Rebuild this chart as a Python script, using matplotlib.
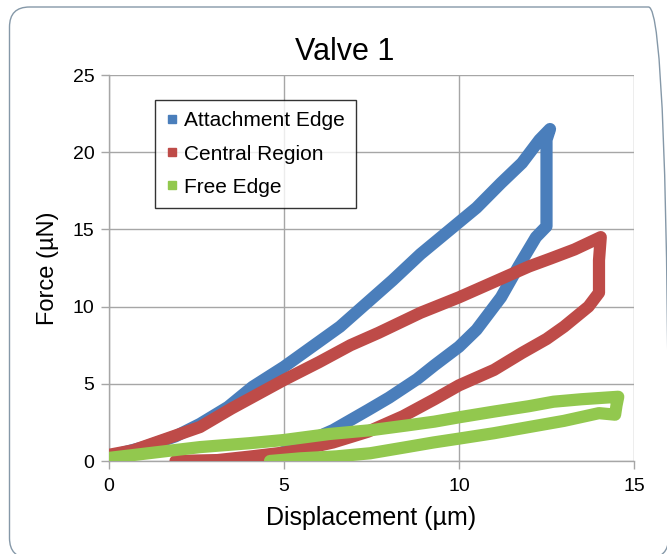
import matplotlib
matplotlib.use("Agg")
import matplotlib.pyplot as plt
from matplotlib.patches import FancyBboxPatch
from matplotlib.lines import Line2D
from matplotlib.transforms import IdentityTransform

plt.rcParams['font.family'] = ['Liberation Sans', 'DejaVu Sans']

# ---- data ----
title = "Valve 1"
x_label = "Displacement (µm)"
y_label = "Force (µN)"
x_ticks = [0, 5, 10, 15]
y_ticks = [0, 5, 10, 15, 20, 25]
series_names = ["Attachment Edge", "Central Region", "Free Edge"]

attach_x = [0.0, 1.0, 1.9, 2.6, 3.4, 4.1, 5.0, 5.8, 6.6, 7.3, 8.1, 8.9, 9.7, 10.5,
            11.2, 11.8, 12.3, 12.6, 12.5, 12.5, 12.5, 12.2, 11.7, 11.2, 10.5, 10.0,
            9.3, 8.8, 8.0, 7.4, 6.4, 5.6, 5.0, 4.6]
attach_y = [0.3, 0.9, 1.6, 2.4, 3.5, 4.8, 6.1, 7.4, 8.7, 10.1, 11.7, 13.4, 14.9, 16.4,
            18.0, 19.3, 20.8, 21.5, 20.8, 18.0, 15.2, 14.5, 12.6, 10.6, 8.5, 7.4,
            6.2, 5.3, 4.1, 3.3, 2.0, 1.2, 0.6, 0.2]

central_x = [0.0, 0.7, 1.65, 2.6, 3.5, 5.0, 6.0, 6.9, 7.7, 8.9, 10.0, 11.0, 12.0,
             12.6, 13.3, 14.05, 14.0, 14.0, 13.7, 13.0, 12.5, 11.8, 11.0, 10.0, 9.3,
             8.4, 7.4, 6.4, 5.5, 5.0, 4.0, 3.1, 1.9]
central_y = [0.4, 0.7, 1.45, 2.2, 3.4, 5.25, 6.4, 7.5, 8.3, 9.6, 10.6, 11.6, 12.6,
             13.1, 13.7, 14.5, 13.0, 10.9, 10.0, 8.7, 7.9, 7.0, 5.9, 4.9, 4.0,
             2.9, 1.9, 1.2, 0.75, 0.55, 0.28, 0.06, 0.0]

free_x = [0.0, 1.3, 2.6, 4.0, 5.0, 6.3, 7.5, 8.5, 9.3, 10.0, 11.0, 12.0, 12.7, 13.5,
          14.55, 14.5, 14.46, 14.0, 13.0, 12.0, 11.0, 10.0, 9.27, 8.5, 7.46, 6.5,
          5.46, 4.6]
free_y = [0.2, 0.55, 0.9, 1.15, 1.36, 1.75, 2.0, 2.3, 2.55, 2.83, 3.2, 3.55, 3.84, 4.0,
          4.16, 3.6, 3.0, 3.1, 2.6, 2.2, 1.8, 1.45, 1.2, 0.9, 0.5, 0.3,
          0.17, 0.0]

colors = ["#4A7EBB", "#BE4B48", "#92C84E"]

# ---- figure ----
W, H = 667, 554
fig = plt.figure(figsize=(W/100, H/100), dpi=100)
ax = fig.add_axes([109/W, 1-461/H, 525/W, 386/H])

# rounded chart-area border (pixel coordinates)
border = FancyBboxPatch((9.5, -4), 659, H - 7 + 4,
                        boxstyle="round,pad=0,rounding_size=20",
                        transform=IdentityTransform(), fill=False,
                        edgecolor="#8598A8", linewidth=1.0, clip_on=False)
fig.patches.append(border)

for xs, ys, c in zip([attach_x, central_x, free_x], [attach_y, central_y, free_y], colors):
    ax.plot(xs, ys, color=c, linewidth=8.8, solid_capstyle='round',
            solid_joinstyle='round', zorder=3)

ax.set_xlim(0, 15)
ax.set_ylim(0, 25)
ax.set_xticks(x_ticks)
ax.set_yticks(y_ticks)
ax.grid(True, color="#A6A6A6", linewidth=1.0, zorder=0)
ax.set_axisbelow(True)
for s in ["top", "right"]:
    ax.spines[s].set_visible(False)
for s in ["left", "bottom"]:
    ax.spines[s].set_color("#A6A6A6")
    ax.spines[s].set_linewidth(1.0)
ax.tick_params(axis='both', colors="#A6A6A6", length=5.5, width=1.0,
               labelcolor="black", labelsize=14)
ax.tick_params(axis='x', pad=7)
ax.tick_params(axis='y', pad=5)

fig.text(345/W, 1 - 60/H, title, fontsize=22, ha='center', va='baseline')
ax.set_xlabel(x_label, fontsize=18, labelpad=8)
ax.set_ylabel(y_label, fontsize=17, labelpad=10)

handles = [Line2D([], [], linestyle='none', marker='s', markersize=6,
                  markerfacecolor=c, markeredgecolor=c) for c in colors]
leg = ax.legend(handles, series_names, loc='upper left',
                bbox_to_anchor=(46/525, (461-100)/386), borderaxespad=0,
                fontsize=15, frameon=True, fancybox=False, handlelength=0.5,
                handletextpad=0.35, borderpad=0.55, labelspacing=0.68)
leg.get_frame().set_edgecolor("black")
leg.get_frame().set_linewidth(1.0)
leg.set_zorder(5)

fig.savefig("out.png", dpi=100)
